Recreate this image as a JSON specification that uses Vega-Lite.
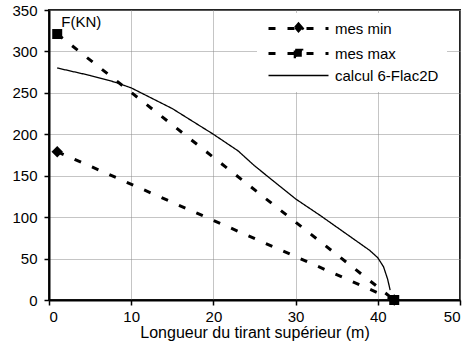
{
  "$schema": "https://vega.github.io/schema/vega-lite/v6.json",
  "width": 411,
  "height": 290,
  "autosize": {"type": "none"},
  "padding": {"left": 49, "top": 10, "right": 12, "bottom": 55},
  "background": "white",
  "config": {
    "font": "Liberation Sans",
    "view": {"stroke": "#222222", "strokeWidth": 2},
    "axis": {
      "labelFont": "Liberation Sans", "labelFontSize": 15, "labelColor": "black",
      "titleFont": "Liberation Sans", "titleFontSize": 16, "titleFontWeight": "normal", "titleColor": "black",
      "domainColor": "black", "domainWidth": 2, "tickColor": "black", "tickSize": 5, "tickWidth": 1.5,
      "gridColor": "#8a8a8a", "gridDash": [1, 1], "gridWidth": 1
    },
    "legend": {"labelFont": "Liberation Sans", "labelFontSize": 15, "labelColor": "black"}
  },
  "datasets": {
    "series": [
      {"serie": "mes min", "x": 1, "y": 179},
      {"serie": "mes min", "x": 42, "y": 0},
      {"serie": "mes max", "x": 1, "y": 321},
      {"serie": "mes max", "x": 42, "y": 0},
      {"serie": "calcul 6-Flac2D", "x": 1, "y": 280},
      {"serie": "calcul 6-Flac2D", "x": 5, "y": 271},
      {"serie": "calcul 6-Flac2D", "x": 8, "y": 263},
      {"serie": "calcul 6-Flac2D", "x": 10, "y": 256},
      {"serie": "calcul 6-Flac2D", "x": 12, "y": 246},
      {"serie": "calcul 6-Flac2D", "x": 15, "y": 231},
      {"serie": "calcul 6-Flac2D", "x": 20, "y": 200},
      {"serie": "calcul 6-Flac2D", "x": 23, "y": 180},
      {"serie": "calcul 6-Flac2D", "x": 25, "y": 162},
      {"serie": "calcul 6-Flac2D", "x": 28, "y": 138},
      {"serie": "calcul 6-Flac2D", "x": 30, "y": 122},
      {"serie": "calcul 6-Flac2D", "x": 33, "y": 102},
      {"serie": "calcul 6-Flac2D", "x": 36, "y": 81},
      {"serie": "calcul 6-Flac2D", "x": 39, "y": 60},
      {"serie": "calcul 6-Flac2D", "x": 40, "y": 51},
      {"serie": "calcul 6-Flac2D", "x": 40.7, "y": 40},
      {"serie": "calcul 6-Flac2D", "x": 41.2, "y": 25},
      {"serie": "calcul 6-Flac2D", "x": 41.5, "y": 12}
    ]
  },
  "layer": [
    {
      "data": {"name": "series"},
      "transform": [{"filter": "datum.serie === 'calcul 6-Flac2D'"}],
      "mark": {"type": "line", "color": "black", "strokeWidth": 1.3},
      "encoding": {
        "x": {"field": "x", "type": "quantitative", "scale": {"domain": [0, 50]},
              "axis": {"values": [0, 10, 20, 30, 40, 50], "title": "Longueur du tirant supérieur (m)", "titlePadding": 0, "labelPadding": 4}},
        "y": {"field": "y", "type": "quantitative", "scale": {"domain": [0, 350]},
              "axis": {"values": [0, 50, 100, 150, 200, 250, 300, 350], "title": null, "labelPadding": 7}},
        "detail": {"field": "serie"},
        "strokeDash": {"field": "serie", "type": "nominal",
          "scale": {"domain": ["mes min", "mes max", "calcul 6-Flac2D"], "range": [[7, 12], [7, 12], [1, 0]]},
          "legend": {"title": null, "orient": "none", "legendX": 208, "legendY": 3,
                     "symbolType": "M-1,0H1", "symbolSize": 3600, "symbolOffset": 26,
                     "symbolStrokeColor": "black", "symbolStrokeWidth": 3,
                     "rowPadding": 5, "fillColor": "white", "padding": 8, "labelOffset": 29,
                     "encode": {"symbols": {"update": {
                       "shape": {"signal": "datum.value === 'mes min' ? 'M-1,0H1M0,-0.15L0.13,0L0,0.15L-0.13,0Z' : datum.value === 'mes max' ? 'M-1,0H1M-0.11,-0.11H0.11V0.11H-0.11Z' : 'M-1,0H1'"},
                       "strokeWidth": {"signal": "datum.value === 'calcul 6-Flac2D' ? 1.3 : 3"},
                       "fill": {"value": "black"},
                       "fillOpacity": {"value": 1},
                       "stroke": {"value": "black"}
                     }}}}},
        "order": {"field": "x", "type": "quantitative"}
      }
    },
    {
      "data": {"name": "series"},
      "transform": [{"filter": "datum.serie !== 'calcul 6-Flac2D'"}],
      "mark": {"type": "line", "color": "black", "strokeWidth": 3},
      "encoding": {
        "x": {"field": "x", "type": "quantitative"},
        "y": {"field": "y", "type": "quantitative"},
        "detail": {"field": "serie"},
        "strokeDash": {"field": "serie", "type": "nominal"},
        "order": {"field": "x", "type": "quantitative"}
      }
    },
    {
      "data": {"name": "series"},
      "transform": [{"filter": "datum.serie !== 'calcul 6-Flac2D'"}],
      "mark": {"type": "point", "filled": true, "color": "black", "opacity": 1},
      "encoding": {
        "x": {"field": "x", "type": "quantitative"},
        "y": {"field": "y", "type": "quantitative"},
        "shape": {"field": "serie", "type": "nominal",
          "scale": {"domain": ["mes min", "mes max"], "range": ["diamond", "square"]}, "legend": null},
        "size": {"field": "serie", "type": "nominal",
          "scale": {"domain": ["mes min", "mes max"], "range": [130, 100]}, "legend": null}
      }
    },
    {
      "data": {"values": [{"x": 1.5, "y": 335, "t": "F(KN)"}]},
      "mark": {"type": "text", "align": "left", "baseline": "middle", "fontSize": 15, "font": "Liberation Sans", "color": "black"},
      "encoding": {
        "x": {"field": "x", "type": "quantitative"},
        "y": {"field": "y", "type": "quantitative"},
        "text": {"field": "t"}
      }
    }
  ]
}
